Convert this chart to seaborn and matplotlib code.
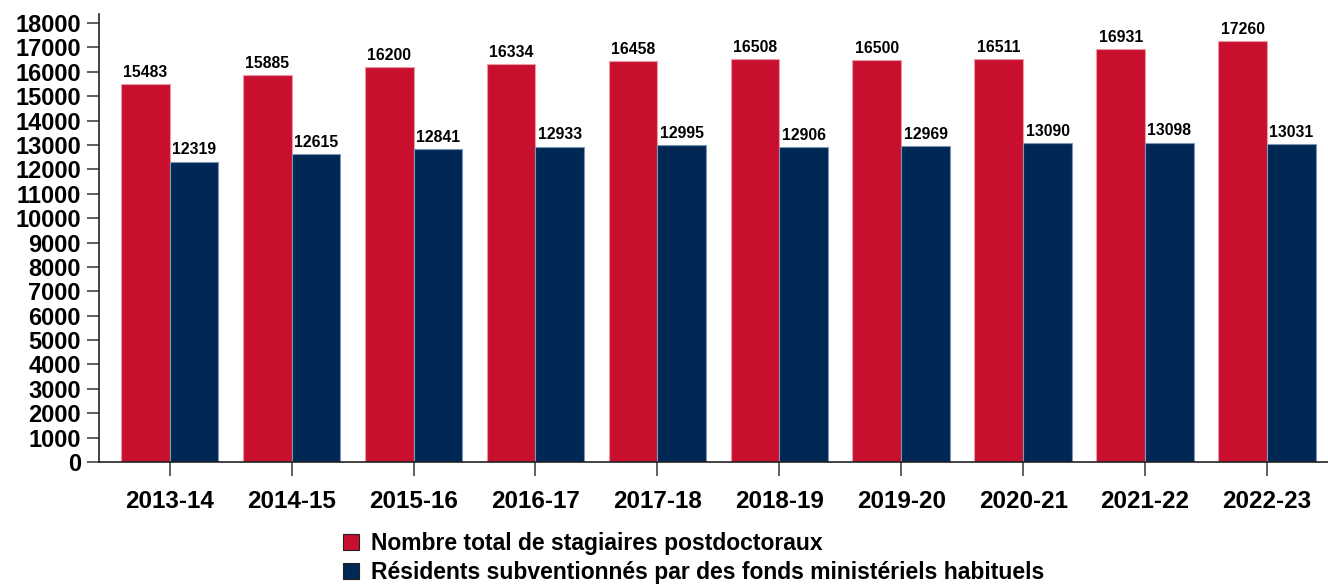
import matplotlib
matplotlib.use('Agg')
import matplotlib.pyplot as plt
import seaborn as sns
import pandas as pd

years = ['2013-14', '2014-15', '2015-16', '2016-17', '2017-18',
         '2018-19', '2019-20', '2020-21', '2021-22', '2022-23']
total_postdocs = [15483, 15885, 16200, 16334, 16458, 16508, 16500, 16511, 16931, 17260]
funded_residents = [12319, 12615, 12841, 12933, 12995, 12906, 12969, 13090, 13098, 13031]
series_names = ['Nombre total de stagiaires postdoctoraux',
                'Résidents subventionnés par des fonds ministériels habituels']
colors = ['#C8102E', '#002855']
edge_colors = ['#E89AA5', '#7F96B5']

df = pd.DataFrame({
    'year': years * 2,
    'value': total_postdocs + funded_residents,
    'series': [series_names[0]] * len(years) + [series_names[1]] * len(years),
})

sns.set_style('white')
plt.rcParams['font.family'] = ['Liberation Sans', 'DejaVu Sans']
plt.rcParams['font.weight'] = 'bold'
plt.rcParams['text.color'] = 'black'
plt.rcParams['xtick.labelcolor'] = 'black'
plt.rcParams['ytick.labelcolor'] = 'black'

fig = plt.figure(figsize=(13.28, 5.87), dpi=100)
ax = fig.add_axes([0.0745, 0.213, 0.9255, 0.763])

sns.barplot(data=df, x='year', y='value', hue='series', palette=colors,
            width=0.8, saturation=1, ax=ax, legend=False)

for i, cont in enumerate(ax.containers):
    for bar in cont:
        bar.set_edgecolor(edge_colors[i])
        bar.set_linewidth(0.8)
    ax.bar_label(cont, fmt='%d', padding=3, fontsize=11.3, fontweight='bold', color='black')

ax.set_xlim(-0.58, 9.5)
ax.set_ylim(0, 18370)
ax.set_yticks(range(0, 18001, 1000))
ax.set_xlabel('')
ax.set_ylabel('')
ax.tick_params(axis='y', labelsize=17, length=9, width=1.2, color='#444444', pad=4, left=True)
ax.tick_params(axis='x', labelsize=17.5, length=10, width=1.2, color='#444444', pad=10, bottom=True)
for lab in ax.get_xticklabels() + ax.get_yticklabels():
    lab.set_fontweight('bold')

sns.despine(ax=ax)
for side in ['left', 'bottom']:
    ax.spines[side].set_color('#222222')
    ax.spines[side].set_linewidth(1.2)

handles = [plt.Rectangle((0, 0), 1, 1, facecolor=c, edgecolor='#222222', linewidth=0.8) for c in colors]
fig.legend(handles, series_names, loc='upper left', bbox_to_anchor=(0.258, 1 - 532 / 587),
           frameon=False, borderaxespad=0, borderpad=0, handlelength=0.7, handleheight=0.7,
           handletextpad=0.55, labelspacing=0.28, prop={'size': 16.5, 'weight': 'bold'})

fig.savefig('out.png', dpi=100)
